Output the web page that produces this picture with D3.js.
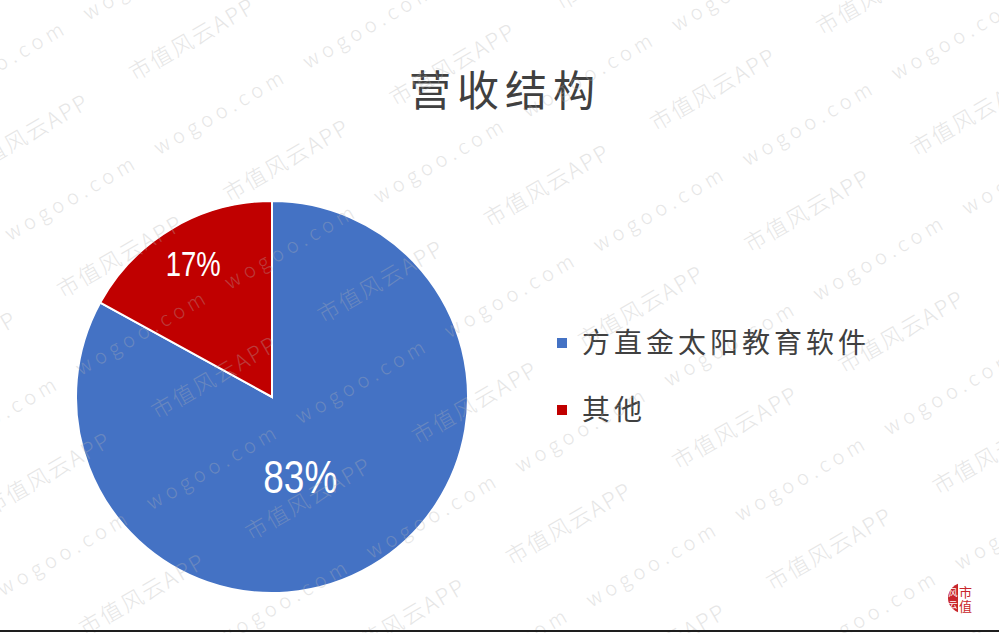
<!DOCTYPE html>
<html><head><meta charset="utf-8">
<script src="https://cdn.jsdelivr.net/npm/d3@7"></script>
<style>html,body{margin:0;padding:0;background:#fff;overflow:hidden}</style>
</head><body>
<svg id="chart" width="999" height="633"></svg>
<script>
const title = "营收结构";
const categories = ["方直金太阳教育软件", "其他"];
const values = [83, 17];
const labels = ["83%", "17%"];
const colors = ["#4472C4", "#C00000"];

const svg = d3.select("#chart");
const W = 999, H = 633;
svg.append("rect").attr("width", W).attr("height", H).attr("fill", "#fff");

const cx = 272, cy = 397, R = 196;
const pie = d3.pie().sort(null).value(d => d.v);
const arcs = pie(categories.map((c, i) => ({c, v: values[i], i})));
const arc = d3.arc().innerRadius(0).outerRadius(R);

const g = svg.append("g").attr("transform", `translate(${cx},${cy})`);
g.selectAll("path").data(arcs).join("path")
  .attr("d", arc)
  .attr("fill", d => colors[d.data.i])
  .attr("stroke", "#fff").attr("stroke-width", 2).attr("stroke-linejoin", "miter");

// data labels
const labelStyle = [{r: 0.43, da: 11 * Math.PI / 180, size: 46, len: 74},
                    {r: 0.79, da: 0, size: 35, len: 55}];
g.selectAll("text.lbl").data(arcs).join("text")
  .attr("class", "lbl")
  .each(function(d) {
    const s = labelStyle[d.data.i];
    const a = (d.startAngle + d.endAngle) / 2 + s.da;
    const rr = s.r * R;
    const x = Math.sin(a) * rr, y = -Math.cos(a) * rr;
    d3.select(this).attr("x", x).attr("y", y + s.size * 0.36)
      .attr("font-size", s.size)
      .attr("textLength", s.len).attr("lengthAdjust", "spacingAndGlyphs");
  })
  .attr("text-anchor", "middle")
  .attr("fill", "#fff")
  .attr("font-family", "'Liberation Sans', Arial, sans-serif")
  .text(d => labels[d.data.i]);

// title
svg.append("text").attr("x", 505).attr("y", 106)
  .attr("text-anchor", "middle")
  .attr("font-family", "'Noto Sans CJK SC', sans-serif")
  .attr("font-size", 42).attr("letter-spacing", 6)
  .attr("fill", "#404040")
  .text(title);

// legend
const lg = svg.append("g").attr("transform", "translate(557,343)");
const item = lg.selectAll("g").data(categories).join("g")
  .attr("transform", (d, i) => `translate(0,${i * 67})`);
item.append("rect").attr("x", 0).attr("y", -5).attr("width", 10).attr("height", 10)
  .attr("fill", (d, i) => colors[i]);
item.append("text").attr("x", 25).attr("y", 10)
  .attr("font-family", "'Noto Sans CJK SC', sans-serif")
  .attr("font-size", 28).attr("letter-spacing", 4)
  .attr("fill", "#404040")
  .text(d => d);

// watermark
const wm = svg.append("g").attr("transform", "rotate(-30)")
  .attr("font-family", "'Noto Sans CJK SC', sans-serif")
  .attr("font-weight", 300)
  .attr("fill", "#b4b4b4").attr("opacity", 0.32);
for (let k = -8; k <= 8; k++) {
  const v = 518 + 76 * k;
  const isW = (k % 2 === 0);
  const P = isW ? 172 : 192;
  let ph = isW ? 48 - 3 * k : 118 + 10.5 * (k + 1);
  ph = ((ph % P) + P) % P;
  for (let u = ph - P * 4; u < 1000; u += P) {
    wm.append("text").attr("x", u).attr("y", v)
      .attr("font-size", isW ? 20 : 22)
      .attr("letter-spacing", isW ? 5 : 2)
      .text(isW ? "wogoo.com" : "市值风云APP");
  }
}

// logo
const defs = svg.append("defs");
defs.append("clipPath").attr("id", "logoClip")
  .append("rect").attr("x", 940).attr("y", 580).attr("width", 18).attr("height", 40);
svg.append("circle").attr("cx", 963).attr("cy", 598).attr("r", 15)
  .attr("fill", "#C8262B").attr("clip-path", "url(#logoClip)");
const lf = "'Noto Sans CJK SC', sans-serif";
svg.append("text").attr("x", 953).attr("y", 596).attr("text-anchor", "middle")
  .attr("font-family", lf).attr("font-size", 9).attr("fill", "#fff").text("风");
svg.append("text").attr("x", 953).attr("y", 608).attr("text-anchor", "middle")
  .attr("font-family", lf).attr("font-size", 9).attr("fill", "#fff").text("云");
svg.append("text").attr("x", 959).attr("y", 597)
  .attr("font-family", lf).attr("font-size", 13).attr("fill", "#C8262B").text("市");
svg.append("text").attr("x", 959).attr("y", 611)
  .attr("font-family", lf).attr("font-size", 13).attr("fill", "#C8262B").text("值");

// bottom rule
svg.append("rect").attr("x", 0).attr("y", 630).attr("width", W).attr("height", 2).attr("fill", "#1e1e1e");
</script>
</body></html>
